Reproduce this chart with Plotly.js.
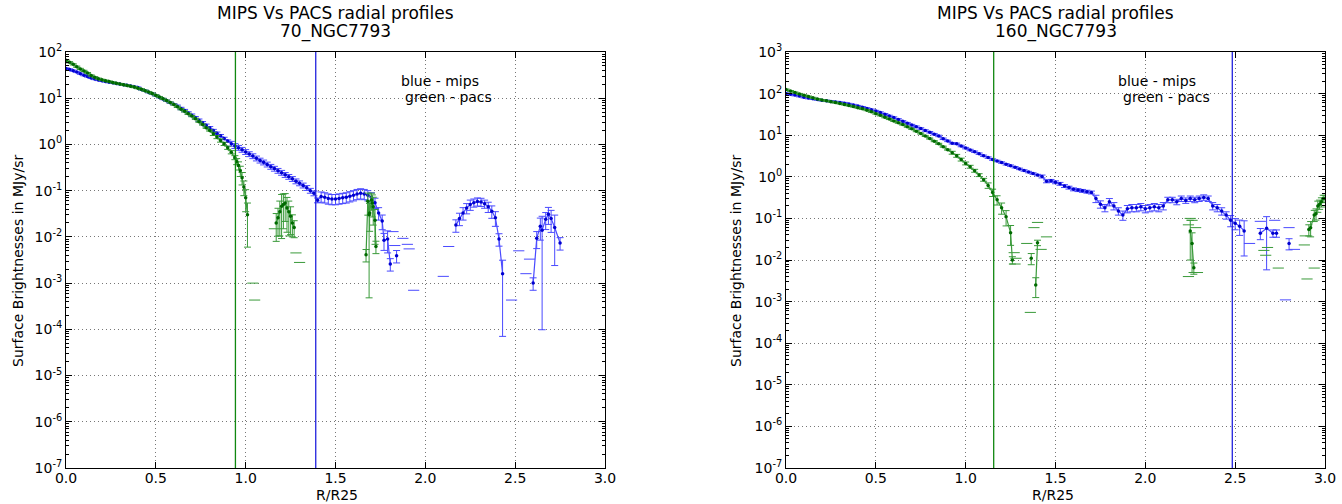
<!DOCTYPE html>
<html><head><meta charset="utf-8">
<script src="https://cdn.plot.ly/plotly-3.0.1.min.js"></script>
<style>html,body{margin:0;padding:0;background:#fff}</style>
</head><body>
<div id="chart" style="width:1342px;height:504px"></div>
<script>
// ---------- 70 micron panel ----------
const mips70X = [0,0.02,0.04,0.06,0.08,0.1,0.12,0.14,0.16,0.18,0.2,0.22,0.24,0.26,0.28,0.3,0.32,0.34,0.36,0.38,0.4,0.42,0.44,0.46,0.48,0.5,0.52,0.54,0.56,0.58,0.6,
 0.62,0.64,0.66,0.68,0.7,0.72,0.74,0.76,0.78,0.8,0.82,0.84,0.86,0.88,0.9,
 0.92,0.94,0.96,0.98,1.0,1.02,1.04,1.06,1.08,1.1,1.12,1.14,1.16,1.18,1.2,1.22,1.24,1.26,1.28,1.3,1.32,1.34,1.36,1.38,1.4,
 1.42,1.44,1.46,1.48,1.5,1.52,1.54,1.56,1.58,1.6,1.62,1.64,1.66,1.68,1.7,1.72,1.74,1.76,
 1.77,1.79,1.805,1.82,1.84,1.86,
 2.17,2.19,2.21,2.23,2.25,2.27,2.29,2.31,2.33,2.35,2.37,2.39,2.41,2.43,2.5,
 2.6,2.62,2.64,2.65,2.67,2.685,2.7,2.72,2.75];
const mips70Y = [44,42,39.5,37,34,31.5,29.5,27.5,26,24.8,23.8,23,22.2,21.5,20.8,20.2,19.6,19,18.4,17.7,17,15.5,14.5,13.5,12.5,11.5,10.5,9.6,8.8,8.0,7.4,
 6.7,6.0,5.4,4.8,4.3,3.8,3.35,2.95,2.6,2.3,2.0,1.75,1.55,1.35,1.18,
 1.04,0.93,0.85,0.77,0.69,0.62,0.56,0.5,0.45,0.41,0.37,0.33,0.3,0.27,0.245,0.22,0.2,0.18,0.16,0.145,0.13,0.115,0.1,0.088,0.062,
 0.075,0.072,0.068,0.066,0.066,0.068,0.07,0.072,0.076,0.08,0.085,0.088,0.085,0.08,0.072,0.055,0.033,0.022,
 0.0085,0.009,0.0026,null,0.0039,null,
 0.018,0.025,0.033,0.042,0.05,0.055,0.058,0.057,0.052,0.045,0.036,0.026,0.009,0.0016,null,
 0.001,0.0093,0.017,0.014,0.024,0.031,0.025,0.016,0.0074];
const mips70Err = [0.03,0.03,0.03,0.03,0.03,0.03,0.03,0.03,0.03,0.03,0.03,0.03,0.03,0.03,0.03,0.03,0.03,0.03,0.03,0.03,0.03,0.03,0.03,0.03,0.03,0.03,0.03,0.03,0.03,0.03,0.03,
 0.06,0.06,0.06,0.06,0.06,0.06,0.06,0.06,0.06,0.06,0.06,0.06,0.06,0.06,0.06,
 0.12,0.12,0.12,0.12,0.12,0.12,0.12,0.12,0.12,0.12,0.12,0.12,0.12,0.12,0.12,0.12,0.12,0.12,0.12,0.12,0.12,0.12,0.12,0.12,0.12,
 0.25,0.25,0.25,0.25,0.25,0.25,0.25,0.25,0.25,0.25,0.25,0.25,0.25,0.25,0.25,0.25,0.3,0.35,
 0.4,0.5,0.3,0,0.3,0,
 0.3,0.3,0.3,0.25,0.25,0.2,0.2,0.2,0.2,0.25,0.3,0.35,0.3,0.956,0,
 0.3,0.4,0.5,0.993,0.4,0.4,0.5,0.85,0.3];
const mips70CapX = [1.82,1.83,1.875,1.9,1.91,1.935,2.10,2.13,2.48,2.52,2.56,2.58];
const mips70CapY = [0.013,0.0065,0.0093,0.0069,0.0055,0.0007,0.0014,0.0062,0.00043,0.005,0.0016,0.0033];

const pacs70X = [0,0.02,0.04,0.06,0.08,0.1,0.12,0.14,0.16,0.18,0.2,0.22,0.24,0.26,0.28,0.3,0.32,0.34,0.36,0.38,0.4,0.42,0.44,0.46,0.48,0.5,0.52,0.54,0.56,0.58,0.6,0.62,0.64,0.66,0.68,0.7,0.72,0.74,0.76,0.78,0.8,
 0.82,0.84,0.86,0.88,0.9,0.92,0.94,
 0.95,0.96,0.97,0.98,0.99,1.0,1.01,1.03,
 1.17,1.18,1.19,1.2,1.21,1.22,1.23,1.24,1.25,1.26,1.27,1.3,
 1.67,1.68,1.687,1.69,1.7,1.705,1.71,1.72,1.725];
const pacs70Y = [66,60,54,48,43,39,35,31,28.5,26.5,25,24,23,22,21,20.3,19.6,18.9,18.2,17.4,16.5,15.6,14.6,13.6,12.6,11.6,10.6,9.7,8.9,8.1,7.3,6.5,5.8,5.2,4.6,4.1,3.6,3.1,2.7,2.3,2.0,
 1.7,1.45,1.22,1.03,0.85,0.68,0.52,
 0.43,0.35,0.27,0.19,0.12,0.07,0.03,null,
 0.02,0.026,0.035,0.046,0.05,0.054,0.042,0.035,0.028,0.02,0.016,null,
 0.0041,0.059,0.03,0.033,0.063,0.054,0.045,0.023,0.0062];
const pacs70Err = [0.03,0.03,0.03,0.03,0.03,0.03,0.03,0.03,0.03,0.03,0.03,0.03,0.03,0.03,0.03,0.03,0.03,0.03,0.03,0.03,0.03,0.03,0.03,0.03,0.03,0.03,0.03,0.03,0.03,0.03,0.03,0.03,0.03,0.03,0.03,0.03,0.03,0.03,0.03,0.03,0.03,
 0.08,0.08,0.08,0.08,0.08,0.08,0.1,
 0.15,0.2,0.25,0.3,0.35,0.5,0.8,0,
 0.6,0.6,0.7,0.8,0.7,0.6,0.7,0.7,0.6,0.5,0.4,0,
 0.3,0.5,0.984,0.6,0.4,0.5,0.6,0.7,0.3];
const pacs70CapX = [1.04,1.05,1.16,1.28,1.30];
const pacs70CapY = [0.001,0.00043,0.015,0.0045,0.0028];

// ---------- 160 micron panel ----------
const mips160X = [0,0.025,0.05,0.075,0.1,0.125,0.15,0.175,0.2,0.225,0.25,0.275,0.3,0.325,0.35,0.375,0.4,0.425,0.45,0.475,0.5,
 0.525,0.55,0.575,0.6,0.625,0.65,0.675,0.7,0.725,0.75,0.775,0.8,0.825,0.85,0.875,0.9,0.925,0.95,0.975,1.0,
 1.025,1.05,1.075,1.1,1.125,1.15,1.175,1.2,1.225,1.25,1.275,1.3,1.325,1.35,1.375,1.4,
 1.425,1.45,1.475,1.5,1.525,1.55,1.575,1.6,1.625,1.65,1.675,1.7,
 1.725,1.75,1.775,1.8,1.825,1.85,1.875,1.9,1.925,1.95,1.975,2.0,2.025,2.05,2.075,2.1,2.125,2.15,2.175,2.2,2.225,2.25,2.275,2.3,2.325,2.35,2.375,2.4,2.425,2.45,2.475,2.5,2.525,2.55,
 2.58,2.64,2.675,2.71,2.73,2.76,2.8];
const mips160Y = [100,97,92,87,82,78,75,72,69,67,65,63,61,59,56,53,50,47,44,41,38,
 35,32,29,26.5,24,21.5,19.5,17.5,16,14.5,13,11.8,10.6,9.6,8.2,7.3,6.4,6.2,5.5,4.9,
 4.4,4.0,3.6,3.2,2.9,2.6,2.4,2.2,2.0,1.85,1.7,1.55,1.42,1.3,1.2,1.1,
 1.02,0.78,0.8,0.74,0.68,0.6,0.55,0.5,0.48,0.46,0.44,0.42,
 0.3,0.22,0.18,0.25,0.2,0.15,0.12,0.17,0.18,0.18,0.19,0.17,0.18,0.19,0.18,0.2,0.28,0.28,0.25,0.3,0.27,0.3,0.28,0.3,0.32,0.3,0.2,0.18,0.15,0.12,0.09,0.076,0.065,0.05,
 null,0.044,0.058,0.044,0.044,null,0.025];
const mips160Err = [0.04,0.04,0.04,0.04,0.04,0.04,0.04,0.04,0.04,0.04,0.04,0.04,0.04,0.04,0.04,0.04,0.04,0.04,0.04,0.04,0.04,
 0.04,0.04,0.04,0.04,0.04,0.04,0.04,0.04,0.04,0.04,0.04,0.04,0.04,0.04,0.04,0.04,0.04,0.04,0.04,0.04,
 0.04,0.04,0.04,0.04,0.04,0.04,0.04,0.04,0.04,0.04,0.04,0.04,0.04,0.04,0.04,0.04,
 0.08,0.08,0.08,0.08,0.08,0.08,0.08,0.08,0.08,0.08,0.08,0.08,
 0.2,0.2,0.2,0.2,0.2,0.2,0.25,0.2,0.2,0.2,0.2,0.2,0.2,0.2,0.2,0.2,0.15,0.15,0.15,0.15,0.15,0.15,0.15,0.15,0.15,0.15,0.2,0.2,0.2,0.2,0.3,0.3,0.4,0.75,
 0,0.3,0.9,0.2,0.2,0,0.3];
const mips160CapX = [2.58,2.64,2.72,2.78,2.80,2.83];
const mips160CapY = [0.025,0.085,0.09,0.0011,0.06,0.018];

const pacs160X = [0,0.025,0.05,0.075,0.1,0.125,0.15,0.175,0.2,0.225,0.25,0.275,0.3,0.325,0.35,0.375,0.4,0.425,0.45,0.475,0.5,
 0.525,0.55,0.575,0.6,0.625,0.65,0.675,0.7,0.725,0.75,0.775,0.8,0.825,0.85,0.875,0.9,
 0.925,0.95,0.975,1.0,1.025,1.05,1.075,1.1,
 1.125,1.15,1.175,1.2,1.225,1.25,1.26,1.3,1.365,1.375,1.39,1.4,1.45,
 2.25,2.26,2.27,2.3,
 2.91,2.92,2.94,2.95,2.96,2.97,2.98,2.99,3.0];
const pacs160Y = [125,115,106,98,91,85,79,74,70,67,64,61,58,55,52,49,46,43,40,36.5,33,
 30,27,24.5,22,20,18,16,14.2,12.5,11,9.6,8.3,7.2,6.2,5.3,4.5,
 3.8,3.2,2.6,2.1,1.75,1.4,1.1,0.85,
 0.62,0.42,0.28,0.18,0.11,0.045,0.01,null,0.011,null,0.0025,0.026,null,
 0.05,0.025,0.0065,null,
 0.054,0.06,0.12,0.13,0.2,0.22,0.25,0.3,0.3];
const pacs160Err = [0.03,0.03,0.03,0.03,0.03,0.03,0.03,0.03,0.03,0.03,0.03,0.03,0.03,0.03,0.03,0.03,0.03,0.03,0.03,0.03,0.03,
 0.03,0.03,0.03,0.03,0.03,0.03,0.03,0.03,0.03,0.03,0.03,0.03,0.03,0.03,0.03,0.03,
 0.08,0.08,0.08,0.08,0.08,0.08,0.08,0.08,
 0.15,0.2,0.25,0.3,0.4,0.5,0.2,0,0.3,0,0.5,0.15,0,
 0.8,0.8,0.3,0,
 0.3,0.4,0.3,0.3,0.3,0.25,0.25,0.2,0.2];
const pacs160CapX = [1.27,1.275,1.28,1.34,1.36,1.38,1.40,1.42,1.45,2.24,2.24,2.25,2.26,2.28,2.29,2.66,2.67,2.68,2.74,2.885,2.89,2.90,2.94];
const pacs160CapY = [0.015,0.008,0.011,0.025,0.00055,0.06,0.08,0.018,0.036,0.07,0.004,0.1,0.09,0.06,0.005,0.017,0.013,0.02,0.0064,0.023,0.038,0.0035,0.0064];

// boundary radii (vertical lines): [pacs, mips]
const edges70 = [0.943, 1.39];
const edges160 = [1.156, 2.484];

const xTickVals = [0,0.5,1,1.5,2,2.5,3];
const xTickText = ['0.0','0.5','1.0','1.5','2.0','2.5','3.0'];
const yTickVals70 = [1e-7,1e-6,1e-5,1e-4,1e-3,1e-2,1e-1,1e0,1e1,1e2];
const yTickText70 = ['10<sup>-7</sup>','10<sup>-6</sup>','10<sup>-5</sup>','10<sup>-4</sup>','10<sup>-3</sup>','10<sup>-2</sup>','10<sup>-1</sup>','10<sup>0</sup>','10<sup>1</sup>','10<sup>2</sup>'];
const yTickVals160 = [1e-7,1e-6,1e-5,1e-4,1e-3,1e-2,1e-1,1e0,1e1,1e2,1e3];
const yTickText160 = ['10<sup>-7</sup>','10<sup>-6</sup>','10<sup>-5</sup>','10<sup>-4</sup>','10<sup>-3</sup>','10<sup>-2</sup>','10<sup>-1</sup>','10<sup>0</sup>','10<sup>1</sup>','10<sup>2</sup>','10<sup>3</sup>'];

const BLUE_L = '#4a4aff', BLUE_M = '#0000d0';
const GREEN_L = '#3a9a3a', GREEN_M = '#006a00';

// minor tick positions (2..9 x each decade) for log axes
function minorVals(lo, hi){ const out=[]; for(let e=lo;e<hi;e++){ for(let m=2;m<=9;m++) out.push(m*Math.pow(10,e)); } return out; }

function absErr(y, rel){ return y.map((v,i)=> v==null ? null : v*rel[i]); }
function series(x,y,rel,lc,mc,xa,ya){
  return {type:'scatter', mode:'lines+markers', x:x, y:y, xaxis:xa, yaxis:ya,
    line:{color:lc,width:1.2}, marker:{color:mc,size:3.5},
    error_y:{type:'data', array:absErr(y,rel), symmetric:true, color:lc, thickness:1, width:3.5},
    connectgaps:false, showlegend:false, hoverinfo:'skip'};
}
function caps(x,y,c,xa,ya){
  return {type:'scatter', mode:'markers', x:x, y:y, xaxis:xa, yaxis:ya,
    marker:{symbol:'line-ew', size:8, color:c, line:{color:c,width:1}},
    showlegend:false, hoverinfo:'skip'};
}

const traces = [
  series(mips70X,mips70Y,mips70Err,BLUE_L,BLUE_M,'x','y'),
  caps(mips70CapX,mips70CapY,BLUE_L,'x','y'),
  series(pacs70X,pacs70Y,pacs70Err,GREEN_L,GREEN_M,'x','y'),
  caps(pacs70CapX,pacs70CapY,GREEN_L,'x','y'),
  series(mips160X,mips160Y,mips160Err,BLUE_L,BLUE_M,'x2','y2'),
  caps(mips160CapX,mips160CapY,BLUE_L,'x2','y2'),
  series(pacs160X,pacs160Y,pacs160Err,GREEN_L,GREEN_M,'x2','y2'),
  caps(pacs160CapX,pacs160CapY,GREEN_L,'x2','y2')
];

const GRID_DASH = '1px,3px';
function xax(domain, anchor){
  return {domain:domain, anchor:anchor, range:[0,3], tickmode:'array', tickvals:xTickVals, ticktext:xTickText,
    ticks:'inside', ticklen:6, tickcolor:'#000', showline:true, linecolor:'#000', linewidth:1, mirror:'allticks',
    showgrid:true, gridcolor:'#777', griddash:GRID_DASH, gridwidth:1, zeroline:false,
    ticklabelstandoff:-3,
    tickfont:{size:14,color:'#000'}, automargin:false};
}
function yax(anchor, r, tv, tt){
  return {domain:[0,1], anchor:anchor, type:'log', range:r, tickmode:'array', tickvals:tv, ticktext:tt,
    ticks:'inside', ticklen:6, tickcolor:'#000', showline:true, linecolor:'#000', linewidth:1, mirror:'allticks',
    showgrid:true, gridcolor:'#777', griddash:GRID_DASH, gridwidth:1, zeroline:false,
    minor:{tickmode:'array', tickvals:minorVals(r[0], r[1]), ticks:'inside', ticklen:3, tickcolor:'#000', showgrid:false},
    tickfont:{size:14,color:'#000'}, automargin:false};
}

const py = p => (468 - p)/416;
const px = p => p/1342;
const F = {family:'DejaVu Sans', color:'#000'};
function ann(x,y,text,size,extra){
  return Object.assign({xref:'paper', yref:'paper', x:x, y:y, text:text, showarrow:false,
    font:Object.assign({}, F, {size:size}), xanchor:'center', yanchor:'middle'}, extra||{});
}

const layout = {
  width:1342, height:504, autosize:false,
  margin:{l:0, r:0, t:52, b:36, pad:0},
  paper_bgcolor:'#fff', plot_bgcolor:'#fff',
  font:{family:'DejaVu Sans', size:14, color:'#000'},
  showlegend:false,
  xaxis: xax([66/1342, 605/1342], 'y'),
  yaxis: yax('x', [-7,2], yTickVals70, yTickText70),
  xaxis2: xax([786/1342, 1325/1342], 'y2'),
  yaxis2: yax('x2', [-7,3], yTickVals160, yTickText160),
  shapes: [
    {type:'line', xref:'x', yref:'y domain', x0:edges70[0], x1:edges70[0], y0:0, y1:1, line:{color:'#118811', width:1.3}},
    {type:'line', xref:'x', yref:'y domain', x0:edges70[1], x1:edges70[1], y0:0, y1:1, line:{color:'#2222dd', width:1.3}},
    {type:'line', xref:'x2', yref:'y2 domain', x0:edges160[0], x1:edges160[0], y0:0, y1:1, line:{color:'#118811', width:1.3}},
    {type:'line', xref:'x2', yref:'y2 domain', x0:edges160[1], x1:edges160[1], y0:0, y1:1, line:{color:'#2222dd', width:1.3}}
  ],
  annotations: [
    ann(px(335.5), py(13), 'MIPS Vs PACS radial profiles', 17),
    ann(px(335.5), py(32), '70_NGC7793', 17),
    ann(px(1055.5), py(13), 'MIPS Vs PACS radial profiles', 17),
    ann(px(1055.5), py(32), '160_NGC7793', 17),
    ann(px(398.6), py(81), 'blue - mips', 14, {xanchor:'left'}),
    ann(px(403), py(97), 'green - pacs', 14, {xanchor:'left'}),
    ann(px(1116), py(81), 'blue - mips', 14, {xanchor:'left'}),
    ann(px(1121), py(97), 'green - pacs', 14, {xanchor:'left'}),
    ann(px(18), py(261), 'Surface Brightnesses in MJy/sr', 14, {textangle:-90}),
    ann(px(736), py(261), 'Surface Brightnesses in MJy/sr', 14, {textangle:-90}),
    ann(px(337), py(495), 'R/R25', 14),
    ann(px(1053), py(495), 'R/R25', 14)
  ]
};

Plotly.newPlot('chart', traces, layout, {displayModeBar:false, staticPlot:true});
</script>
</body></html>
